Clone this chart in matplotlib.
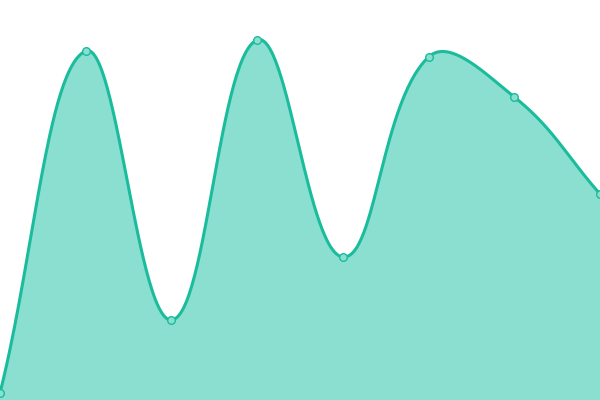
import numpy as np
import matplotlib
matplotlib.use("Agg")
import matplotlib.pyplot as plt

labels = ["A", "B", "C", "D", "E", "F", "G", "H"]
values = [7, 349, 80, 360, 143, 343, 303, 206]

LINE = "#1abc9c"
FILL = "#8bdfd0"
TENSION = 0.4

fig = plt.figure(figsize=(6, 4), dpi=100)
ax = fig.add_axes([0, 0, 1, 1])
ax.set_xlim(0, len(values) - 1)
ax.set_ylim(0, 400)
ax.axis("off")

x = np.arange(len(values), dtype=float)
y = np.array(values, dtype=float)
sx = 600 / (len(values) - 1)
sy = 400 / 400.0

def dist(i, j):
    return np.hypot((x[i] - x[j]) * sx, (y[i] - y[j]) * sy)

n = len(x)
cp_prev = np.zeros((n, 2))
cp_next = np.zeros((n, 2))
for i in range(n):
    p = max(i - 1, 0)
    q = min(i + 1, n - 1)
    d01 = dist(p, i)
    d12 = dist(i, q)
    tot = d01 + d12
    fa = TENSION * d01 / tot if tot else 0
    fb = TENSION * d12 / tot if tot else 0
    dx, dy = x[q] - x[p], y[q] - y[p]
    cp_prev[i] = [x[i] - fa * dx, y[i] - fa * dy]
    cp_next[i] = [x[i] + fb * dx, y[i] + fb * dy]
cp_prev[:, 1] = np.clip(cp_prev[:, 1], 0, 400)
cp_next[:, 1] = np.clip(cp_next[:, 1], 0, 400)

t = np.linspace(0, 1, 60)[:, None]
xs, ys = [], []
for i in range(n - 1):
    P0 = np.array([x[i], y[i]])
    P1 = cp_next[i]
    P2 = cp_prev[i + 1]
    P3 = np.array([x[i + 1], y[i + 1]])
    B = ((1 - t) ** 3) * P0 + 3 * ((1 - t) ** 2) * t * P1 + 3 * (1 - t) * t ** 2 * P2 + t ** 3 * P3
    xs.extend(B[:, 0]); ys.extend(B[:, 1])
xs = np.array(xs); ys = np.array(ys)

ax.fill_between(xs, 0, ys, color=FILL, linewidth=0)
ax.plot(xs, ys, color=LINE, linewidth=2.2, solid_capstyle="round")
ax.plot(x, y, linestyle="none", marker="o", markersize=5.5,
        markerfacecolor=FILL, markeredgecolor=LINE, markeredgewidth=1)

fig.savefig("out.png", dpi=100)
